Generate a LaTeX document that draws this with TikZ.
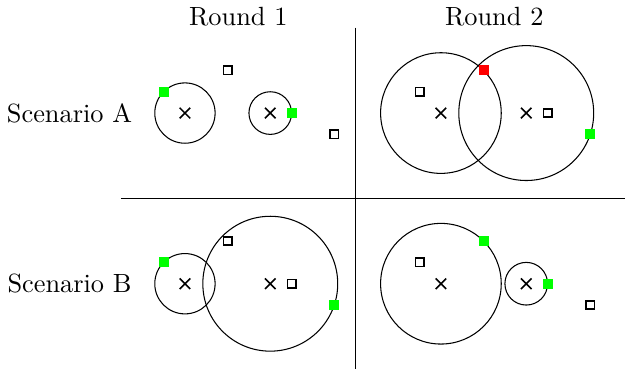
\documentclass[tikz,border=0pt]{standalone}
\usepackage{tikz}
\usetikzlibrary{shapes.misc,through,positioning}
\tikzset{
  xmark/.style={cross out, draw, line width=0.6pt, minimum size=3.4pt, inner sep=0pt},
  hollow/.style={rectangle, draw, line width=0.6pt, minimum size=3.2pt, inner sep=0pt, fill=white},
  hit/.style={rectangle, fill=#1, minimum size=3.8pt, inner sep=0pt},
  ring/.style={draw, line width=0.4pt},
}

\begin{document}
\begin{tikzpicture}[x=8.1pt,y=8.1pt]
    \useasboundingbox (-8.67,-12.0) rectangle (20.63,5.30);

    % Labels
    \node (r1) at (2.5,4.5) {Round 1};
    \node (r2) at (14.5,4.5) {Round 2};
    \node (sa) at (-5.41,0) {Scenario A};
    \node (sb) at (-5.41,-8) {Scenario B};

    % Separators
    \coordinate (vtop) at (8,4);
    \coordinate (vbot) at (8,-12);
    \coordinate (hleft) at (-3,-4);
    \coordinate (hright) at (20.63,-4);
    \draw[line width=0.5pt] (vtop) -- (vbot);
    \draw[line width=0.5pt] (hleft) -- (hright);

    % Scenario A, round 1
    \begin{scope}
      \coordinate (ta-p1) at (-1,1);
      \coordinate (ta-p2) at (2,2);
      \coordinate (ta-p3) at (5,0);
      \coordinate (ta-p4) at (7,-1);
      \node[ring, circle through=(ta-p1)] at (0,0) {};
      \node[ring, circle through=(ta-p3)] at (4,0) {};
      \node[xmark] (ta-x1) at (0,0) {};
      \node[xmark] (ta-x2) at (4,0) {};
      \node[hit=green] at (ta-p1) {};
      \node[hollow] at (ta-p2) {};
      \node[hit=green] at (ta-p3) {};
      \node[hollow] at (ta-p4) {};
    \end{scope}

    % Scenario A, round 2
    \begin{scope}[shift={(12,0)}]
      \coordinate (tb-p1) at (-1,1);
      \coordinate (tb-p2) at (2,2);
      \coordinate (tb-p3) at (5,0);
      \coordinate (tb-p4) at (7,-1);
      \node[ring, circle through=(tb-p2)] at (0,0) {};
      \node[ring, circle through=(tb-p4)] at (4,0) {};
      \node[xmark] (tb-x1) at (0,0) {};
      \node[xmark] (tb-x2) at (4,0) {};
      \node[hollow] at (tb-p1) {};
      \node[hit=red] at (tb-p2) {};
      \node[hollow] at (tb-p3) {};
      \node[hit=green] at (tb-p4) {};
    \end{scope}

    % Scenario B, round 1
    \begin{scope}[shift={(0,-8)}]
      \coordinate (ba-p1) at (-1,1);
      \coordinate (ba-p2) at (2,2);
      \coordinate (ba-p3) at (5,0);
      \coordinate (ba-p4) at (7,-1);
      \node[ring, circle through=(ba-p1)] at (0,0) {};
      \node[ring, circle through=(ba-p4)] at (4,0) {};
      \node[xmark] (ba-x1) at (0,0) {};
      \node[xmark] (ba-x2) at (4,0) {};
      \node[hit=green] at (ba-p1) {};
      \node[hollow] at (ba-p2) {};
      \node[hollow] at (ba-p3) {};
      \node[hit=green] at (ba-p4) {};
    \end{scope}

    % Scenario B, round 2
    \begin{scope}[shift={(12,-8)}]
      \coordinate (bb-p1) at (-1,1);
      \coordinate (bb-p2) at (2,2);
      \coordinate (bb-p3) at (5,0);
      \coordinate (bb-p4) at (7,-1);
      \node[ring, circle through=(bb-p2)] at (0,0) {};
      \node[ring, circle through=(bb-p3)] at (4,0) {};
      \node[xmark] (bb-x1) at (0,0) {};
      \node[xmark] (bb-x2) at (4,0) {};
      \node[hollow] at (bb-p1) {};
      \node[hit=green] at (bb-p2) {};
      \node[hit=green] at (bb-p3) {};
      \node[hollow] at (bb-p4) {};
    \end{scope}
\end{tikzpicture}
\end{document}
